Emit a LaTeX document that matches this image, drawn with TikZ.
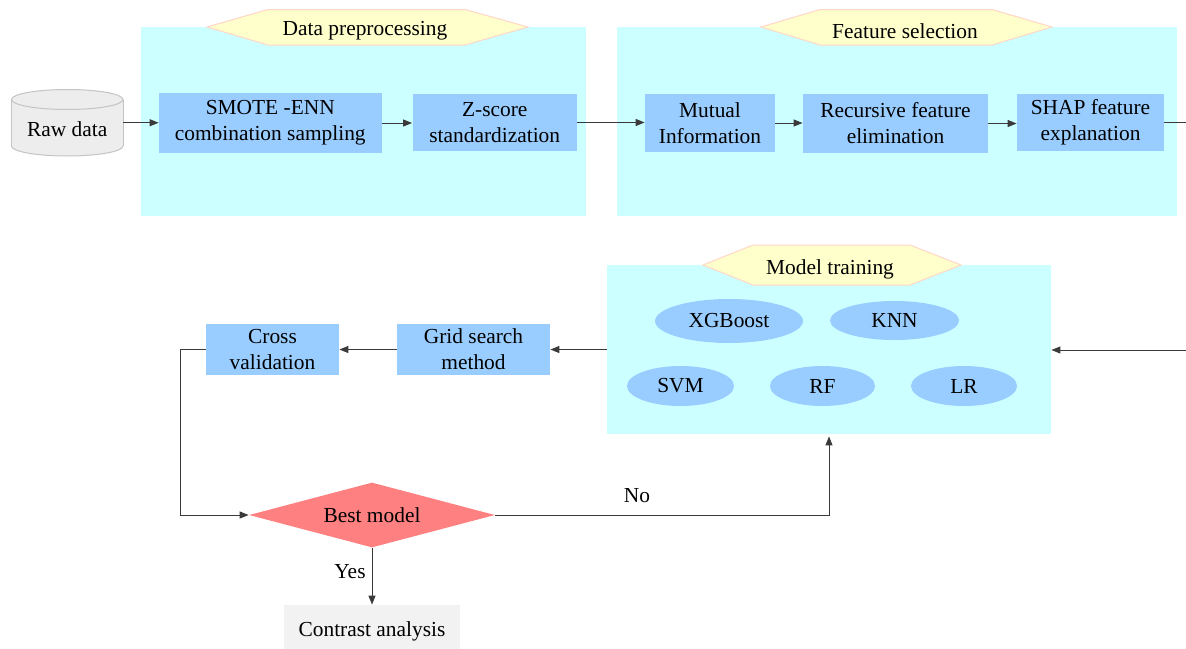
\documentclass[tikz,border=0pt]{standalone}
\usepackage{fontspec}
\setmainfont{Liberation Serif}
\usetikzlibrary{shapes.geometric,arrows.meta}
\definecolor{panelc}{HTML}{CCFFFF}
\definecolor{boxc}{HTML}{99CCFF}
\definecolor{hexc}{HTML}{FFFFCC}
\definecolor{hexb}{HTML}{FFD6C8}
\definecolor{diac}{HTML}{FF8080}
\definecolor{cylc}{HTML}{EDEDED}
\definecolor{cylb}{HTML}{C4C4C4}
\definecolor{conc}{HTML}{F2F2F2}
\definecolor{linec}{HTML}{3A3A3A}
\tikzset{
  txt/.style={font=\fontsize{10.7}{13}\selectfont, text=black, align=center},
  panel/.style={fill=panelc, draw=none, inner sep=0pt},
  procbox/.style={txt, fill=boxc, draw=none, inner sep=0pt},
  algo/.style={txt, ellipse, fill=boxc, draw=none, inner sep=0pt},
  hexshape/.style={fill=hexc, draw=hexb, line width=0.5pt},
  conn/.style={draw=linec, line width=0.5pt},
  arr/.style={conn, -{Triangle[length=4.5pt,width=3.5pt]}},
}
\begin{document}
\begin{tikzpicture}[x=0.5pt,y=-0.5pt]
\useasboundingbox (0,0) rectangle (1186,648);
\fill[white] (0,0) rectangle (1186,648);
% panels
\node[panel, minimum width=222.25pt, minimum height=94.5pt] (dp) at (363.25,121.5) {};
\node[panel, minimum width=280pt, minimum height=94.5pt] (fs) at (897,121.5) {};
\node[panel, minimum width=222pt, minimum height=84.5pt] (mt) at (829,349.5) {};
% hexagon labels
\draw[hexshape] (207,27) -- (268,9.5) -- (465,9.5) -- (528,27) -- (465,45) -- (268,45) -- cycle;
\node[txt] (dph) at (365,31) {Data preprocessing};
\draw[hexshape] (761,27) -- (820,9.5) -- (992,9.5) -- (1052,27) -- (992,45) -- (820,45) -- cycle;
\node[txt] (fsh) at (905,31) {Feature selection};
\draw[hexshape] (703,265) -- (753,245) -- (910,245) -- (961,265) -- (910,285) -- (753,285) -- cycle;
\node[txt] (mth) at (830,269) {Model training};
% raw data cylinder
\node[inner sep=0pt, minimum width=55.75pt, minimum height=33.5pt] (raw) at (67.25,122.75) {};
\filldraw[fill=cylc, draw=cylb, line width=0.5pt] (67.25,146) ellipse [x radius=55.75, y radius=10];
\fill[cylc] (11.5,99.5) rectangle (123,146);
\draw[cylb, line width=0.5pt] (11.5,99.5) -- (11.5,146) (123,99.5) -- (123,146);
\filldraw[fill=cylc, draw=cylb, line width=0.5pt] (67.25,99.5) ellipse [x radius=55.75, y radius=10];
\node[txt] (rawt) at (67.25,129) {Raw data};
% process boxes
\node[procbox, minimum width=111.25pt, minimum height=30pt] (smote) at (270.25,123) {SMOTE -ENN\\combination sampling};
\node[procbox, minimum width=82.25pt, minimum height=28.5pt] (zs) at (494.75,122.5) {Z-score\\standardization};
\node[procbox, minimum width=65pt, minimum height=29pt] (mi) at (710,123) {Mutual\\Information};
\node[procbox, minimum width=92.5pt, minimum height=29.5pt] (rfe) at (895.5,123.5) {Recursive feature\\elimination};
\node[procbox, minimum width=73.5pt, minimum height=28.5pt] (shap) at (1090.5,122) {SHAP feature\\explanation};
\node[procbox, minimum width=76.5pt, minimum height=25.5pt] (grid) at (473.5,349.5) {Grid search\\method};
\node[procbox, minimum width=66.5pt, minimum height=25.5pt] (cross) at (272.5,349.5) {Cross\\validation};
% algorithms
\node[algo, minimum width=74pt, minimum height=22pt] (xgb) at (729,321) {XGBoost};
\node[algo, minimum width=64.5pt, minimum height=19.5pt] (knn) at (894.5,320.5) {KNN};
\node[algo, minimum width=53.5pt, minimum height=20pt] (svm) at (680.5,386) {SVM};
\node[algo, minimum width=52.5pt, minimum height=20pt] (rf) at (822.5,386) {RF};
\node[algo, minimum width=53pt, minimum height=20pt] (lr) at (964,386) {LR};
% decision and result
\node[txt, diamond, aspect=3.78, fill=diac, draw=none, inner sep=0pt, minimum width=123pt, minimum height=32.5pt] (best) at (372,515) {Best model};
\node[txt, fill=conc, draw=none, inner sep=0pt, minimum width=88pt, minimum height=26pt] (contrast) at (372,631) {Contrast analysis};
% edge coordinates
\coordinate (outA) at (1186,122);
\coordinate (inB) at (1186,350);
% connectors
\draw[arr] (raw.east) -- (smote.west |- raw.east);
\draw[arr] (smote.east) -- (zs.west |- smote.east);
\draw[arr] (zs.east) -- (mi.west |- zs.east);
\draw[arr] (mi.east) -- (rfe.west |- mi.east);
\draw[arr] (rfe.east) -- (shap.west |- rfe.east);
\draw[conn] (shap.east) -- (outA);
\draw[arr] (inB) -- (mt.east |- inB);
\draw[arr] (mt.west |- grid.east) -- (grid.east);
\draw[arr] (grid.west) -- (cross.east);
\draw[arr] (cross.west) -- ++(-25,0) |- (best.west);
\draw[arr] (best.east) -| ([yshift=-1pt]mt.south);
\draw[arr] (best.south) -- (contrast.north);
\node[txt] (nolab) at (637,496) {No};
\node[txt] (yeslab) at (350,572) {Yes};
\end{tikzpicture}
\end{document}
